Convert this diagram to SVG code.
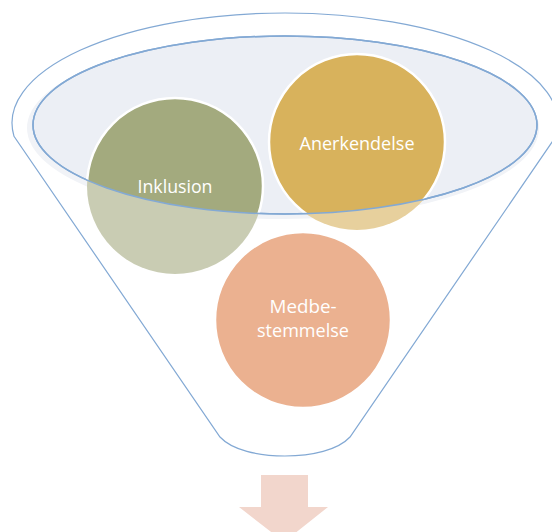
<svg xmlns="http://www.w3.org/2000/svg" width="552" height="532" viewBox="0 0 552 532">
<style>
.lbl{font-family:"Open Sans","Liberation Sans",sans-serif;font-size:19px;fill:#ffffff;text-anchor:middle}
.lbl2{font-family:"Open Sans","Liberation Sans",sans-serif;font-size:18px;fill:#ffffff;text-anchor:middle}
.funnel{fill:#ffffff;stroke:#83A9D4;stroke-width:1.2}
.rim{fill:#ECEFF5;stroke:#83A9D4;stroke-width:1.5}
</style>
<defs>
<clipPath id="rimClip"><ellipse cx="285" cy="125" rx="252" ry="89"/></clipPath>
</defs>
<g id="funnel">
<path class="funnel" d="M14,136.3 A273,110 0 1 1 556,136.3 L350,437 C338,450 312,456 285,456 C258,456 232,450 220,437 Z"/>
<ellipse cx="283" cy="128" rx="256" ry="91" fill="#F1F3F7"/>
<ellipse class="rim" cx="285" cy="125" rx="252" ry="89"/>
</g>
<g id="inklusion">
<circle cx="175" cy="186" r="88" fill="#C9CCB3"/>
<circle cx="175" cy="186" r="88" fill="#A3AA7E" stroke="#ffffff" stroke-width="2.5" clip-path="url(#rimClip)"/>
<text class="lbl" x="175" y="193" textLength="75" lengthAdjust="spacingAndGlyphs">Inklusion</text>
</g>
<g id="anerkendelse">
<circle cx="357" cy="142" r="88" fill="#E7D09D"/>
<circle cx="357" cy="142" r="88" fill="#D8B25C" stroke="#ffffff" stroke-width="2.5" clip-path="url(#rimClip)"/>
<text class="lbl" x="357" y="150" textLength="115" lengthAdjust="spacingAndGlyphs">Anerkendelse</text>
</g>
<ellipse cx="285" cy="125" rx="252" ry="89" fill="none" stroke="#83A9D4" stroke-width="1.5"/>
<g id="medbestemmelse">
<circle cx="303" cy="320" r="88" fill="#EBB190" stroke="#ffffff" stroke-width="2.5"/>
<text class="lbl2" x="303" y="313" textLength="67" lengthAdjust="spacingAndGlyphs">Medbe-</text>
<text class="lbl2" x="303" y="337" textLength="92" lengthAdjust="spacingAndGlyphs">stemmelse</text>
</g>
<g id="connectors">
<polygon points="261,475 308,475 308,507 328,507 284,542 239,507 261,507" fill="#F2D6CC"/>
</g>
</svg>
